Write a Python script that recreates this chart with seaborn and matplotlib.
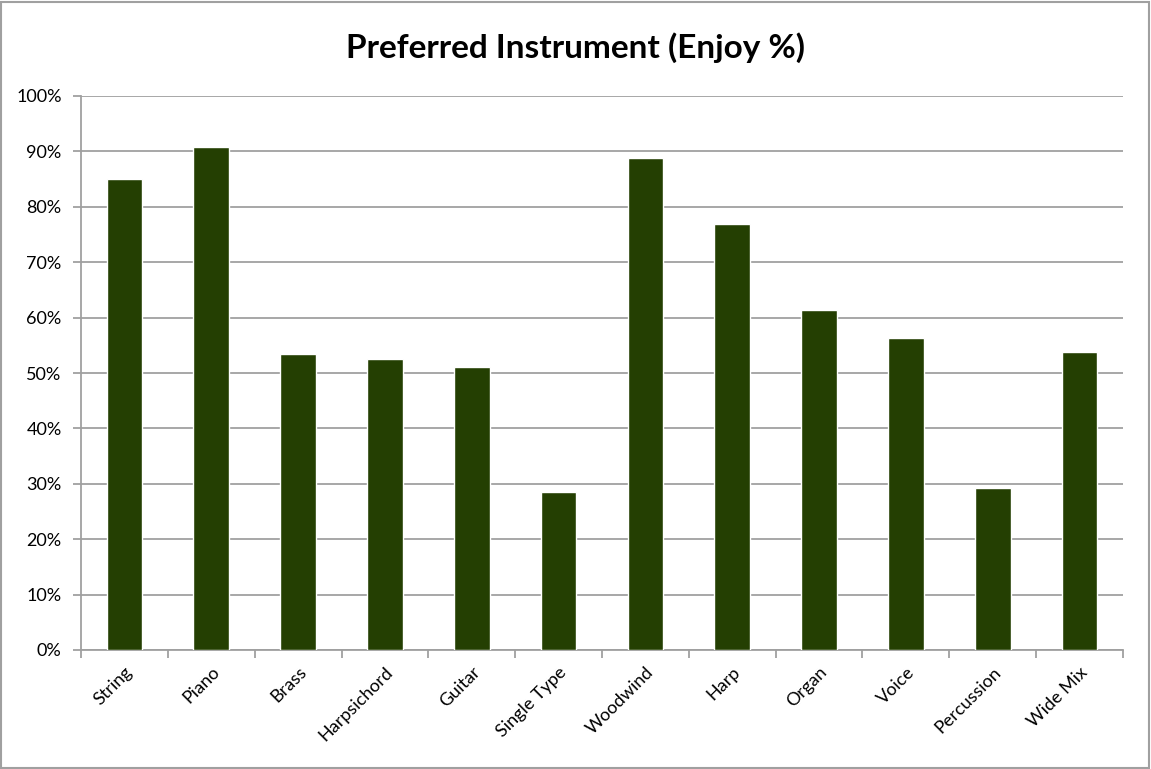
import matplotlib
matplotlib.use("Agg")
import matplotlib.pyplot as plt
import seaborn as sns
import pandas as pd
from matplotlib.ticker import MultipleLocator, FuncFormatter, FixedLocator
from matplotlib.patches import Rectangle

categories = ["String", "Piano", "Brass", "Harpsichord", "Guitar", "Single Type",
              "Woodwind", "Harp", "Organ", "Voice", "Percussion", "Wide Mix"]
enjoy_pct = [85.0, 90.8, 53.4, 52.5, 51.1, 28.5, 88.8, 76.9, 61.4, 56.3, 29.2, 53.8]
title = "Preferred Instrument (Enjoy %)"

sns.set_theme(style="white")
plt.rcParams["font.family"] = ["Lato", "DejaVu Sans"]

df = pd.DataFrame({"Instrument": categories, "Enjoy": enjoy_pct})

fig = plt.figure(figsize=(11.51, 7.69), dpi=100)
ax = fig.add_axes([81/1151, 1-650/769, (1123-81)/1151, (650-96)/769])

sns.barplot(data=df, x="Instrument", y="Enjoy", color="#243f02", saturation=1,
            width=0.41, ax=ax, zorder=3)

ax.set_ylim(0, 100)
ax.set_xlim(-0.5, len(categories) - 0.5)
ax.yaxis.set_major_locator(MultipleLocator(10))
ax.yaxis.set_major_formatter(FuncFormatter(lambda v, p: f"{int(round(v))}%"))
ax.grid(axis="y", color="#a0a0a0", linewidth=1.3, zorder=0)
ax.set_axisbelow(True)

for s in ["top", "right"]:
    ax.spines[s].set_visible(False)
for s in ["left", "bottom"]:
    ax.spines[s].set_color("#a0a0a0")
    ax.spines[s].set_linewidth(1.3)

ax.set_xlabel("")
ax.set_ylabel("")
ax.tick_params(axis="y", which="major", length=6, width=1.3, color="#a0a0a0",
               labelsize=13, labelcolor="black", pad=8, left=True)
ax.tick_params(axis="x", which="major", length=0, labelsize=13, labelcolor="black", pad=10)
ax.xaxis.set_minor_locator(FixedLocator([i - 0.5 for i in range(len(categories) + 1)]))
ax.tick_params(axis="x", which="minor", length=6, width=1.3, color="#a0a0a0", bottom=True)
for lab in ax.get_xticklabels():
    lab.set_rotation(45)
    lab.set_ha("right")
    lab.set_rotation_mode("anchor")

fig.text(0.5, 1 - 48/769, title, ha="center", va="center", fontsize=24,
         fontweight="bold", color="black")

fig.patches.append(Rectangle((1/1151, 1/769), 1 - 3/1151, 1 - 3/769, transform=fig.transFigure,
                             fill=False, edgecolor="#a0a0a0", linewidth=1.5))

fig.savefig("out.png", dpi=100)
